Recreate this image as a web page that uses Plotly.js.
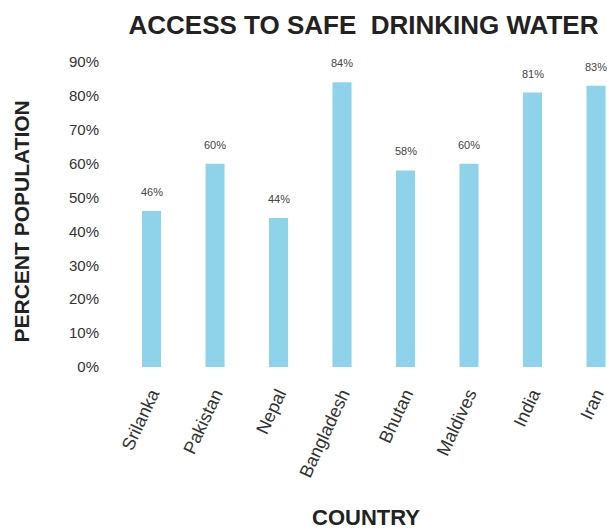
<!DOCTYPE html>
<html>
<head>
<meta charset="utf-8">
<script src="https://cdn.plot.ly/plotly-3.0.1.min.js"></script>
<style>
  html, body { margin: 0; padding: 0; background: #fff; }
  #chart { width: 607px; height: 532px; }
</style>
</head>
<body>
<div id="chart"></div>
<script>
// Share of population with access to safe drinking water, by country
const countries = ['Srilanka', 'Pakistan', 'Nepal', 'Bangladesh', 'Bhutan', 'Maldives', 'India', 'Iran'];
const accessPct = [46, 60, 44, 84, 58, 60, 81, 83];
const yTickVals = [0, 10, 20, 30, 40, 50, 60, 70, 80, 90];
const yTickText = ['0%', '10%', '20%', '30%', '40%', '50%', '60%', '70%', '80%', '90%'];

const font = 'Liberation Sans, Arial, Helvetica, sans-serif';
const barColor = '#8fd3ea';

const trace = {
  type: 'bar',
  x: countries,
  y: accessPct,
  width: 0.3,
  marker: { color: barColor, line: { width: 0 } },
  hoverinfo: 'x+y'
};

// value labels floating above each bar
const valueLabels = countries.map((c, i) => ({
  x: c,
  y: accessPct[i],
  xref: 'x',
  yref: 'y',
  text: accessPct[i] + '%',
  showarrow: false,
  yanchor: 'middle',
  yshift: 19,
  font: { family: font, size: 11, color: '#444' }
}));

const axisTitles = [
  {
    text: 'PERCENT POPULATION',
    xref: 'paper', yref: 'paper',
    x: 0, y: 0.5,
    xanchor: 'center', yanchor: 'middle',
    xshift: -89, yshift: -7,
    textangle: -90,
    showarrow: false,
    font: { family: font, size: 21, color: '#222', weight: 'bold' }
  },
  {
    text: 'COUNTRY',
    xref: 'paper', yref: 'paper',
    x: (366 - 110) / 497, y: 0,
    xanchor: 'center', yanchor: 'middle',
    yshift: -150,
    showarrow: false,
    font: { family: font, size: 22, color: '#222', weight: 'bold' }
  }
];

const layout = {
  width: 607,
  height: 532,
  margin: { l: 110, r: 0, t: 62, b: 165 },
  paper_bgcolor: '#fff',
  plot_bgcolor: '#fff',
  showlegend: false,
  title: {
    text: 'ACCESS TO SAFE  DRINKING WATER',
    xref: 'container', yref: 'container',
    x: 363.5 / 607, xanchor: 'center',
    y: 1 - 25 / 532, yanchor: 'middle',
    font: { family: font, size: 26, color: '#222', weight: 'bold' }
  },
  xaxis: {
    type: 'category',
    range: [-0.654, 7.173],
    showgrid: false,
    zeroline: false,
    showline: false,
    ticks: '',
    tickangle: -65,
    ticklabelstandoff: 12,
    tickfont: { family: font, size: 18, color: '#333' }
  },
  yaxis: {
    range: [0, 90],
    tickvals: yTickVals,
    ticktext: yTickText,
    showgrid: false,
    zeroline: false,
    showline: false,
    ticks: '',
    ticklabelstandoff: 10,
    tickfont: { family: font, size: 15, color: '#333' }
  },
  annotations: valueLabels.concat(axisTitles)
};

Plotly.newPlot('chart', [trace], layout, { displayModeBar: false, staticPlot: true });
</script>
</body>
</html>
